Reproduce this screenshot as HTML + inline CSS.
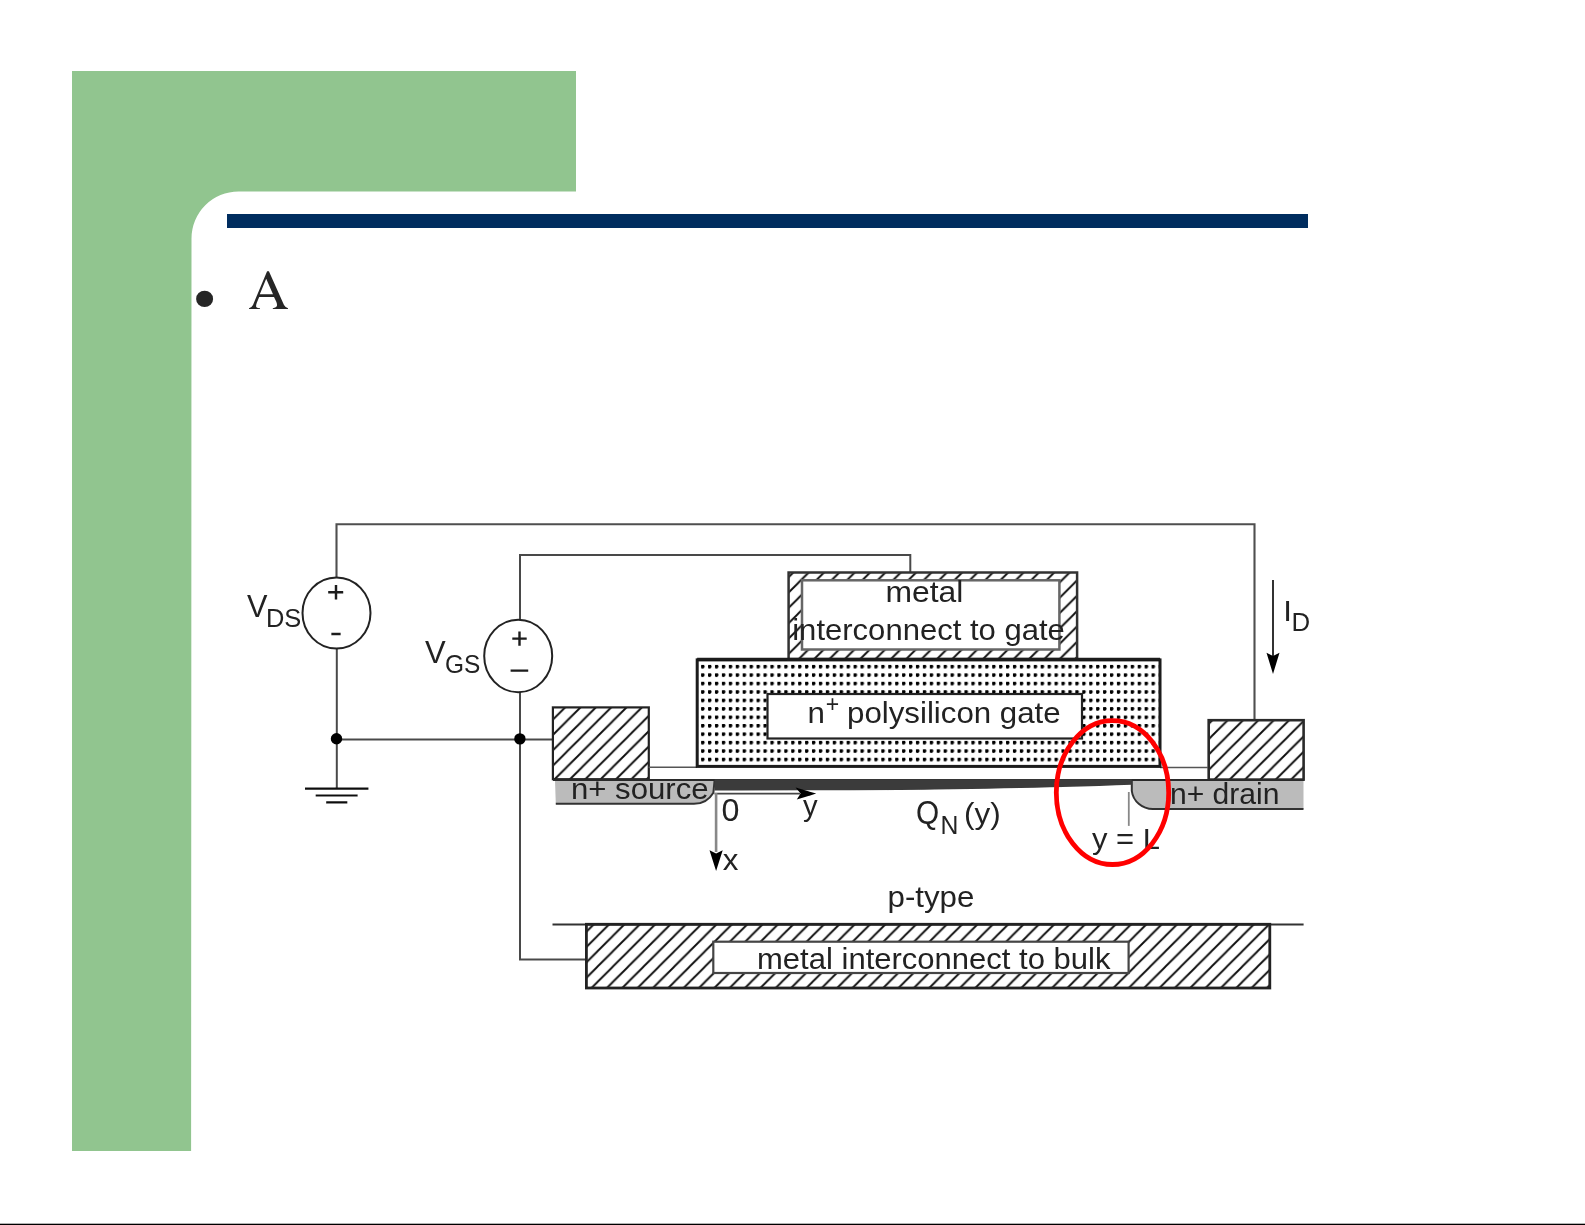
<!DOCTYPE html>
<html><head><meta charset="utf-8">
<style>
html,body{margin:0;padding:0;background:#fff;width:1585px;height:1225px;overflow:hidden}
svg{display:block;position:absolute;left:0;top:0}
text{font-family:"Liberation Sans",sans-serif;fill:#222}
.serif{font-family:"Liberation Serif",serif}
</style></head><body>
<svg width="1585" height="1225" viewBox="0 0 1585 1225">
<defs>
<filter id="soft" x="0" y="0" width="1585" height="1225" filterUnits="userSpaceOnUse"><feGaussianBlur stdDeviation="0.4"/></filter>
<pattern id="hatch" patternUnits="userSpaceOnUse" width="15.35" height="15.35" x="13.8" y="0">
<path d="M-4,4 L4,-4 M0,15.35 L15.35,0 M11.35,19.35 L19.35,11.35" stroke="#111" stroke-width="1.9"/>
</pattern>
<pattern id="hatch2" patternUnits="userSpaceOnUse" width="15.35" height="15.35" x="15.0" y="0">
<path d="M-4,4 L4,-4 M0,15.35 L15.35,0 M11.35,19.35 L19.35,11.35" stroke="#111" stroke-width="1.9"/>
</pattern>
<pattern id="dots" patternUnits="userSpaceOnUse" width="6.93" height="8.44" x="701.1" y="664.9">
<circle cx="1.6" cy="1.7" r="1.95" fill="#000"/>
</pattern>
</defs>
<!-- background green L -->
<path d="M72,71 H576 V191.4 H238.5 A47,47 0 0 0 191.5,238.4 L191.1,1151 H72 Z" fill="#91c58f"/>
<!-- blue bar -->
<rect x="227" y="214" width="1081" height="14" fill="#002d5f"/>
<!-- bullet -->
<ellipse cx="204.6" cy="298.9" rx="8.5" ry="8.2" fill="#262626"/>
<path fill="#262626" fill-rule="evenodd" d="M267.1,271.2 L268.9,271.2 L284,305 Q285.5,307.8 288,308.2 L288,309 L272.8,309 L272.8,308.3 Q276.6,307.8 277,305.6 Q277.2,304 276.3,301.8 L274,297 L259.2,297 L256.8,302.8 Q255.6,306 256.4,307.3 Q257.5,308.2 260,308.3 L260,309 L249,309 L249,308.3 Q251.5,307.8 253,305 Z M266.2,278.8 L273,294.2 L259.8,294.2 Z"/>
<!-- bottom line -->
<rect x="0" y="1223.7" width="1585" height="1.3" fill="#000"/>

<g filter="url(#soft)">
<!-- wires -->
<path d="M336.5,578 V524.3 H1254.5 V720" fill="none" stroke="#505050" stroke-width="2.1"/>
<g fill="none" stroke="#4a4a4a" stroke-width="2">
<path d="M520,620 V555 H910.3 V572.5"/>
<path d="M336.8,648.5 V788.6"/>
<path d="M336.5,739.6 H553"/>
<path d="M520,692 V959.4 H586"/>
</g>
<path d="M305,788.6 H368.4 M315.7,795.5 H357.6 M326.2,802.4 H347.3" stroke="#111" stroke-width="2.2" fill="none"/>
<ellipse cx="336.5" cy="613" rx="34" ry="35.6" fill="none" stroke="#222" stroke-width="2"/>
<ellipse cx="518.2" cy="656" rx="34" ry="36.2" fill="none" stroke="#222" stroke-width="2"/>
<circle cx="336.5" cy="738.8" r="5.7" fill="#000"/>
<circle cx="519.9" cy="738.9" r="5.7" fill="#000"/>
<path d="M328.2,592.3 H343.2 M336,585.1 V599.5 M331.4,634 H340.6" stroke="#1a1a1a" stroke-width="2.4" fill="none"/>
<path d="M512.3,638.6 H526.7 M519.5,631.4 V645.8 M510.6,670.6 H528.2" stroke="#1a1a1a" stroke-width="2.4" fill="none"/>

<!-- source contact -->
<rect x="552.9" y="707.4" width="95.9" height="71.8" fill="url(#hatch)" stroke="#222" stroke-width="2.2"/>
<!-- drain contact -->
<rect x="1208.7" y="720.2" width="94.9" height="59.4" fill="url(#hatch)" stroke="#2a2a2a" stroke-width="2.6"/>
<!-- oxide line -->
<path d="M648.5,767.2 H697 M1160,767.5 H1208" stroke="#555" stroke-width="1.6" fill="none"/>
<!-- gate poly -->
<rect x="697.2" y="659.9" width="462.8" height="106.5" fill="#fff" stroke="#1a1a1a" stroke-width="3"/>
<rect x="698.7" y="661.4" width="459.8" height="103.5" fill="url(#dots)"/>
<rect x="767.5" y="694" width="314.5" height="44.5" fill="#fff" stroke="#222" stroke-width="2.2"/>
<!-- metal to gate -->
<rect x="788.6" y="572.5" width="288.5" height="86.6" fill="url(#hatch2)" stroke="#333" stroke-width="2.5"/>
<rect x="802" y="580.3" width="257.4" height="69.2" fill="#fff" stroke="#666" stroke-width="2.5"/>
<path d="M697.2,659.3 H1160" stroke="#1a1a1a" stroke-width="3" fill="none"/>

<!-- source/drain n+ regions -->
<path d="M555,780.5 H714.5 L713.4,792.7 C709,800 703,803.8 694,803.8 H555.8 Z" fill="#bbb"/>
<path d="M555.8,803.8 H694 C703,803.8 709,800 713.4,792.7 L714.5,781" fill="none" stroke="#333" stroke-width="2"/>
<path d="M1131.8,781 H1303.5 V809 H1153 C1142,809 1133,801 1131.8,791 Z" fill="#bbb"/>
<path d="M1303.5,809 H1153 C1142,809 1133,801 1131.8,791 V781" fill="none" stroke="#333" stroke-width="2"/>
<path d="M553,779.9 H1304" stroke="#2a2a2a" stroke-width="2" fill="none"/>
<!-- channel -->
<path d="M714.5,779.2 H1131.8 V784.8 Q1060,787.8 935,789.5 Q880,790.4 714.5,790.5 Z" fill="#3a3a3a"/>
<!-- axes -->
<path d="M714.5,793.6 H800" stroke="#444" stroke-width="1.9" fill="none"/>
<path d="M816.2,793.6 L795.6,787.6 L800.6,793.6 L796.8,799.6 Z" fill="#000"/>
<path d="M716.1,793 V852" stroke="#888" stroke-width="2.6" fill="none"/>
<path d="M709.5,850.2 L716.1,871 L722.7,850.2 L716.1,853.4 Z" fill="#000"/>
<path d="M1128.8,792 V825.9" stroke="#888" stroke-width="1.8" fill="none"/>
<!-- ID arrow -->
<path d="M1273,580 V656" stroke="#333" stroke-width="2" fill="none"/>
<path d="M1266.5,652.7 L1273,674 L1279.5,652.7 L1273,656 Z" fill="#000"/>

<!-- bulk -->
<path d="M552.5,924.5 H1303.6" stroke="#333" stroke-width="2" fill="none"/>
<rect x="586.4" y="924.3" width="683.4" height="63.7" fill="url(#hatch)" stroke="#222" stroke-width="2.8"/>
<rect x="713.3" y="941.7" width="415.3" height="31.3" fill="#fff" stroke="#444" stroke-width="2.2"/>

<!-- text -->
<g class="lbl">
<text font-size="31.3" transform="matrix(1.0181,0,0,0.955,885.46,602.4)">metal</text>
<text font-size="31.3" transform="matrix(0.9919,0,0,0.955,792.22,640.4)">interconnect to gate</text>
<text font-size="31.3" transform="matrix(1.0,0,0,0.955,807.4,723.2)">n</text>
<text font-size="31.3" transform="matrix(0.9986,0,0,0.955,847.0,723.2)">polysilicon gate</text>
<text font-size="31.3" transform="matrix(0.9963,0,0,0.955,570.91,799.2)">n+ source</text>
<text font-size="31.3" transform="matrix(1.03,0,0,1.01,721.6,820.6)">0</text>
<text font-size="31.3" transform="matrix(0.9333,0,0,0.955,803.0,815.5)">y</text>
<text font-size="31.3" transform="matrix(0.952,0,0,1.04,916.1,824)">Q</text>
<text font-size="23.6" transform="matrix(1.05,0,0,1.06,940.5,834.0)">N</text>
<text font-size="31.3" transform="matrix(1.0061,0,0,0.9667,963.99,824.03)">(y)</text>
<text font-size="31.3" transform="matrix(1.0,0,0,0.955,722.7,870.0)">x</text>
<text font-size="31.3" transform="matrix(0.9897,0,0,0.955,1092.0,849)">y = L</text>
<text font-size="31.3" transform="matrix(0.9609,0,0,0.955,1169.98,804.1)">n+ drain</text>
<text font-size="31.3" transform="matrix(1.0,0,0,0.964,1283.2,620.8)">I</text>
<text font-size="25" transform="matrix(1.0333,0,0,0.9944,1291.43,631.4)">D</text>
<text font-size="31.3" transform="matrix(0.9988,0,0,0.955,887.5,906.5)">p-type</text>
<text font-size="31.3" transform="matrix(0.9915,0,0,0.955,757.02,968.8)">metal interconnect to bulk</text>
<text font-size="31" transform="matrix(0.99,0,0,1.0227,247.0,616.5)">V</text>
<text font-size="24" transform="matrix(1.06,0,0,1.035,266.0,626.9)">DS</text>
<text font-size="31" transform="matrix(1.0,0,0,1.0091,425.0,662.8)">V</text>
<text font-size="24" transform="matrix(1.02,0,0,1.06,445.0,673.2)">GS</text>
<text font-size="24" transform="matrix(0.96,0,0,0.96,825.7,712.2)">+</text>
</g>

<!-- red ellipse -->
<ellipse cx="1112.5" cy="792.6" rx="56.2" ry="71.9" fill="none" stroke="#f00" stroke-width="4.8"/>
</g>
</svg>
</body></html>
